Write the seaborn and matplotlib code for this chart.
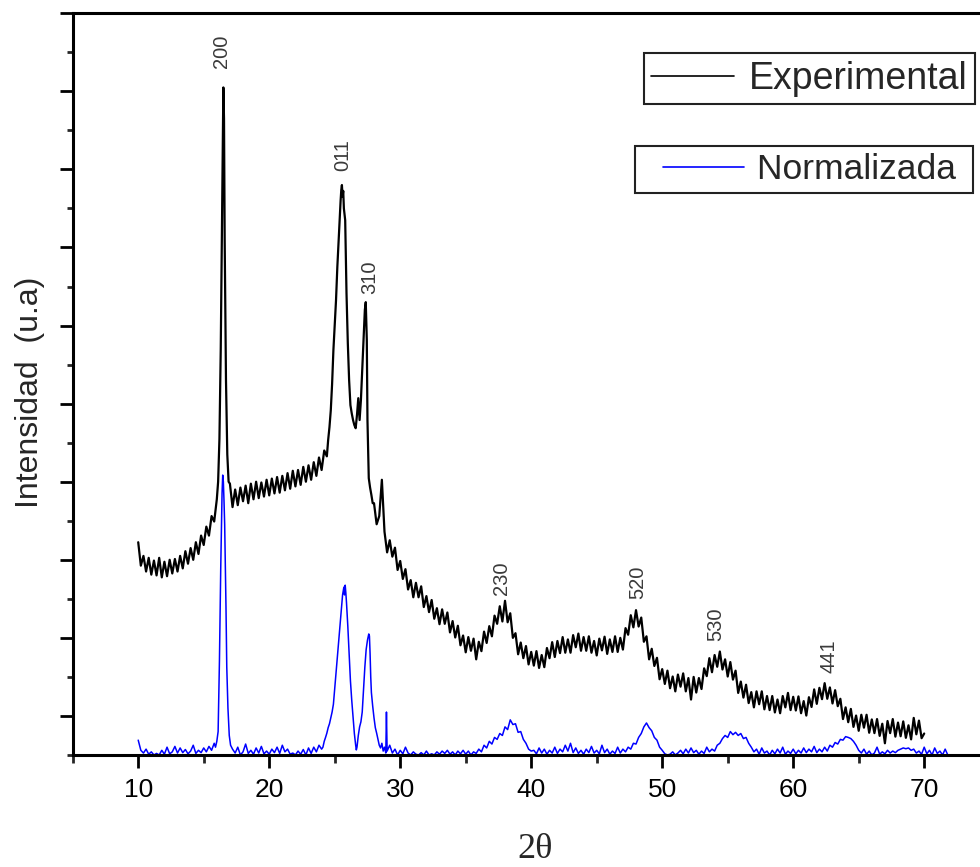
import numpy as np
import pandas as pd
import seaborn as sns
import matplotlib
matplotlib.use("Agg")
from matplotlib import pyplot as plt
from matplotlib.lines import Line2D
from matplotlib.legend_handler import HandlerLine2D

# paso de barrido (grados 2theta) para los tramos regulares
STEP = 0.2

# ---- Experimental (negro) ----
exp_a_start = 10.0
exp_a = [5.45, 4.85, 5.10, 4.70, 5.05, 4.62, 4.98, 4.60, 5.05, 4.55, 4.95, 4.58, 5.00, 4.65, 5.02, 4.70,
         5.10, 4.78, 5.22, 4.90, 5.30, 5.00, 5.45, 5.15, 5.62, 5.38, 5.85, 5.62, 6.12, 5.98, 6.55]
exp_p200_x = [16.1, 16.2, 16.3, 16.4, 16.45, 16.5, 16.55, 16.6, 16.7, 16.8, 16.9]
exp_p200_y = [7.0, 8.1, 10.4, 13.7, 15.5, 17.1, 16.3, 13.2, 9.6, 7.7, 7.0]
exp_b_start = 17.0
exp_b = [6.95, 6.35, 6.80, 6.40, 6.85, 6.50, 6.90, 6.45, 6.95, 6.55, 7.00, 6.58, 6.98, 6.62, 7.05, 6.65,
         7.08, 6.70, 7.12, 6.72, 7.15, 6.78, 7.22, 6.82, 7.28, 6.88, 7.30, 6.92, 7.38, 7.00, 7.42, 7.05,
         7.50, 7.15, 7.62, 7.30, 7.80, 7.65]
exp_p011_x = [24.5, 24.6, 24.7, 24.8, 24.9, 25.0, 25.1, 25.2, 25.3, 25.4, 25.45, 25.5, 25.55, 25.6, 25.65,
              25.7, 25.8, 25.85, 25.9, 26.0, 26.1, 26.2, 26.3, 26.4, 26.5, 26.6, 26.7, 26.8, 26.9, 27.0,
              27.1, 27.2, 27.3, 27.37, 27.45, 27.5, 27.6, 27.7, 27.8, 27.9]
exp_p011_y = [8.07, 8.4, 8.83, 9.5, 10.37, 11.0, 11.65, 12.5, 13.2, 13.88, 14.2, 14.47, 14.6, 14.3, 14.45,
              14.0, 13.7, 12.8, 11.83, 10.55, 9.6, 8.96, 8.75, 8.58, 8.45, 8.37, 8.71, 9.14, 8.58, 9.09,
              9.86, 10.63, 11.4, 11.6, 10.63, 8.58, 7.09, 6.85, 6.66, 6.45]
exp_c_start = 28.0
exp_c = [6.45, 5.91, 6.12, 7.05, 5.72, 5.19, 5.50, 5.08, 5.31, 4.74,
         4.97, 4.51, 4.76, 4.24, 4.48, 4.04, 4.41, 4.04, 4.32, 3.79,
         4.07, 3.66, 3.97, 3.49, 3.76, 3.35, 3.73, 3.36, 3.65, 3.14,
         3.43, 3.01, 3.31, 2.81, 3.06, 2.63, 3.02, 2.67, 2.98, 2.45,
         2.90, 2.66, 3.16, 2.87, 3.30, 3.04, 3.57, 3.36, 3.81, 3.42,
         3.95, 3.40, 3.63, 3.00, 3.12, 2.58, 2.88, 2.48, 2.79, 2.32,
         2.64, 2.29, 2.66, 2.23, 2.56, 2.25, 2.74, 2.48, 2.89, 2.51,
         2.92, 2.61, 3.02, 2.62, 2.96, 2.62, 3.07, 2.76, 3.11, 2.67,
         3.02, 2.67, 3.04, 2.62, 2.92, 2.55, 2.98, 2.68, 3.03, 2.59,
         2.96, 2.64, 3.04, 2.64, 3.00, 2.70, 3.25, 3.08, 3.58, 3.27,
         3.71, 3.29, 3.52, 2.90, 3.04, 2.45, 2.72, 2.28, 2.49, 1.94,
         2.20, 1.82, 2.16, 1.71, 2.01, 1.63, 2.06, 1.75, 2.09, 1.63,
         1.97, 1.42, 2.00, 1.60, 1.97, 1.69, 2.22, 2.02, 2.48, 2.12,
         2.56, 2.26, 2.65, 2.19, 2.45, 2.01, 2.38, 1.93, 2.16, 1.59,
         1.88, 1.47, 1.80, 1.33, 1.61, 1.22, 1.63, 1.30, 1.63, 1.17,
         1.51, 1.15, 1.51, 1.09, 1.42, 1.07, 1.51, 1.22, 1.59, 1.15,
         1.49, 1.14, 1.50, 1.07, 1.38, 1.01, 1.48, 1.23, 1.68, 1.31,
         1.72, 1.43, 1.84, 1.44, 1.73, 1.32, 1.66, 1.25, 1.44, 0.92,
         1.22, 0.84, 1.18, 0.72, 1.01, 0.62, 1.03, 0.70, 1.03, 0.57,
         0.91, 0.56, 0.92, 0.49, 0.80, 0.30, 0.87, 0.56, 0.92, 0.47,
         0.83, 0.48, 0.86, 0.44, 0.76, 0.40, 0.95, 0.53, 0.88, 0.43,
         0.55]

# ---- Normalizada (azul) ----
norm_a_start = 10.0
norm_a = [0.38, 0.12, 0.05, 0.15, 0.02, 0.08, 0.0, 0.04, 0.0, 0.12, 0.02, 0.2, 0.03, 0.08, 0.22,
          0.05, 0.18, 0.06, 0.14, 0.03, 0.1, 0.25, 0.04, 0.12, 0.06, 0.18, 0.08, 0.22, 0.12, 0.3]
norm_p200_x = [15.9, 16.0, 16.1, 16.2, 16.3, 16.4, 16.45, 16.5, 16.55, 16.6, 16.7, 16.76, 16.85, 16.95, 17.05]
norm_p200_y = [0.2, 0.35, 0.6, 2.4, 4.8, 6.7, 7.17, 7.0, 6.5, 5.9, 3.8, 2.25, 1.2, 0.5, 0.25]
norm_b_start = 17.2
norm_b = [0.15, 0.05, 0.2, 0.0, 0.08, 0.28, 0.04, 0.12, 0.02, 0.18, 0.05, 0.22, 0.03, 0.1, 0.02,
          0.15, 0.06, 0.2, 0.04, 0.25, 0.08, 0.15, 0.02, 0.05, 0.0, 0.1, 0.02, 0.14, 0.0, 0.18,
          0.04, 0.2, 0.08, 0.25, 0.15]
norm_p011_x = [24.1, 24.2, 24.3, 24.4, 24.5, 24.6, 24.7, 24.8, 24.9, 25.0, 25.1, 25.2, 25.3, 25.4, 25.5,
               25.6, 25.7, 25.75, 25.8, 25.85, 25.9, 26.0, 26.1, 26.2, 26.3, 26.4, 26.5, 26.6, 26.65,
               26.7, 26.8, 26.9, 27.0, 27.1, 27.2, 27.3, 27.4, 27.5, 27.6, 27.65, 27.7, 27.75, 27.8,
               27.9, 28.0, 28.1, 28.2, 28.3, 28.4, 28.5, 28.6, 28.7, 28.8, 28.9, 28.95, 29.0, 29.2,
               29.4, 29.6, 29.8]
norm_p011_y = [0.2, 0.35, 0.45, 0.56, 0.7, 0.8, 0.95, 1.1, 1.3, 1.7, 2.1, 2.5, 2.9, 3.3, 3.7,
               4.1, 4.3, 4.1, 4.35, 4.15, 3.9, 3.3, 2.6, 1.9, 1.4, 0.97, 0.55, 0.25, 0.13,
               0.2, 0.5, 0.72, 0.85, 1.1, 1.7, 2.25, 2.7, 2.94, 3.1, 3.05, 2.6, 2.0, 1.6,
               1.25, 0.95, 0.7, 0.56, 0.4, 0.25, 0.18, 0.3, 0.1, 0.2, 0.05, 1.1, 0.1, 0.25,
               0.05, 0.15, 0.0]
norm_c_start = 30.0
norm_c = [0.12, 0.03, 0.2, 0.05, 0.0, 0.08, 0.02, 0.0, 0.06, 0.0, 0.1, 0.0, 0.03, 0.0, 0.08,
          0.02, 0.1, 0.04, 0.12, 0.02, 0.08, 0.0, 0.1, 0.03, 0.12, 0.02, 0.1, 0.0, 0.08, 0.04,
          0.15, 0.08, 0.25, 0.18, 0.35, 0.28, 0.45, 0.4, 0.55, 0.5, 0.72, 0.65, 0.9, 0.78, 0.8,
          0.58, 0.6, 0.4, 0.3, 0.15, 0.1,
          0.12, 0.03, 0.18, 0.05, 0.15, 0.02, 0.12, 0.05, 0.2, 0.04, 0.15, 0.08, 0.25, 0.1, 0.3,
          0.06, 0.18, 0.04, 0.12, 0.02, 0.15, 0.06, 0.22, 0.05, 0.12, 0.03, 0.25, 0.06, 0.15, 0.02,
          0.1, 0.04, 0.2, 0.05, 0.15, 0.08, 0.2]
norm_d_start = 47.6
norm_d = [0.15, 0.3, 0.28, 0.45, 0.55, 0.72, 0.82, 0.7, 0.62, 0.45, 0.38, 0.2, 0.12, 0.03,
          0.0, 0.02, 0.08, 0.0, 0.05, 0.12, 0.03, 0.15, 0.05, 0.18, 0.06, 0.12, 0.02, 0.1, 0.04,
          0.2, 0.08, 0.15, 0.1, 0.25,
          0.3, 0.42, 0.5, 0.45, 0.6, 0.52, 0.58, 0.5, 0.55, 0.42, 0.45, 0.3, 0.2, 0.08,
          0.15, 0.02, 0.18, 0.05, 0.1, 0.0, 0.12, 0.03, 0.15, 0.05, 0.2, 0.02, 0.1, 0.04, 0.15,
          0.03, 0.12, 0.05, 0.18, 0.06, 0.15, 0.08, 0.22, 0.06, 0.15, 0.08, 0.2, 0.1, 0.25,
          0.2, 0.32, 0.28, 0.4, 0.38, 0.47, 0.45, 0.42, 0.35, 0.25, 0.12, 0.05,
          0.15, 0.02, 0.1, 0.0, 0.05, 0.2, 0.02, 0.08, 0.03, 0.12, 0.05, 0.1, 0.06, 0.12, 0.15,
          0.18, 0.16, 0.18, 0.12, 0.15, 0.05, 0.1, 0.02, 0.2, 0.03, 0.12, 0.0, 0.18, 0.04, 0.1,
          0.0, 0.15, 0.0]

# indices de Miller de los picos
peak_labels = ['200', '011', '310', '230', '520', '530', '441']
peak_label_x = [16.32, 25.63, 27.7, 37.77, 48.15, 54.1, 62.73]
peak_label_y = [18.03, 15.36, 12.24, 4.53, 4.43, 3.35, 2.54]


def scan(start, values):
    return list(np.round(start + STEP * np.arange(len(values)), 2))


exp_x = scan(exp_a_start, exp_a) + exp_p200_x + scan(exp_b_start, exp_b) + exp_p011_x + scan(exp_c_start, exp_c)
exp_y = exp_a + exp_p200_y + exp_b + exp_p011_y + exp_c
norm_x = (scan(norm_a_start, norm_a) + norm_p200_x + scan(norm_b_start, norm_b) + norm_p011_x
          + scan(norm_c_start, norm_c) + scan(norm_d_start, norm_d))
norm_y = norm_a + norm_p200_y + norm_b + norm_p011_y + norm_c + norm_d

df_exp = pd.DataFrame({'two_theta': exp_x, 'intensidad': exp_y})
df_norm = pd.DataFrame({'two_theta': norm_x, 'intensidad': norm_y})

sns.set_theme(style='ticks')
plt.rcParams['font.family'] = ['Liberation Sans', 'DejaVu Sans']

fig = plt.figure(figsize=(9.8, 8.67), dpi=100)
ax = fig.add_axes([0.0742, 0.1292, 0.9357, 0.8555])

sns.lineplot(data=df_exp, x='two_theta', y='intensidad', color='black', linewidth=1.6,
             estimator=None, sort=False, ax=ax)
sns.lineplot(data=df_norm, x='two_theta', y='intensidad', color='#0000ff', linewidth=1.1,
             estimator=None, sort=False, ax=ax)

for lab, px, py in zip(peak_labels, peak_label_x, peak_label_y):
    ax.text(px, py, lab, rotation=90, ha='center', va='center', fontsize=14.5, color='#3a3a3a')

ax.set_xlim(5, 75)
ax.set_ylim(0, 19)
ax.set_xticks([10, 20, 30, 40, 50, 60, 70])
ax.set_xticks([5, 15, 25, 35, 45, 55, 65, 75], minor=True)
ax.set_yticks(list(range(1, 20, 2)))
ax.set_yticks(list(range(0, 19, 2)), minor=True)
ax.set_yticklabels([])
ax.tick_params(axis='x', which='major', length=9.5, width=2, direction='out', labelsize=19, pad=7, colors='black')
ax.tick_params(axis='x', which='minor', length=6, width=2, direction='out')
ax.tick_params(axis='y', which='major', length=9.5, width=2, direction='out', colors='black')
ax.tick_params(axis='y', which='minor', length=4.5, width=2, direction='out')

for side in ['left', 'bottom', 'top']:
    ax.spines[side].set_linewidth(2.2)
    ax.spines[side].set_color('black')
ax.spines['right'].set_visible(False)

ax.set_xlabel('2θ', fontsize=26, family=['Liberation Serif', 'DejaVu Serif'], va='center')
ax.xaxis.set_label_coords(0.504, -0.128)
ax.set_ylabel('Intensidad  (u.a)', fontsize=23, va='center', ha='center')
ax.yaxis.set_label_coords(-0.047, 0.489)

h1 = Line2D([], [], color='black', linewidth=1.2)
leg1 = ax.legend(handles=[h1], labels=['Experimental'],
                 loc='upper right', bbox_to_anchor=(975 / 980, 1 - 53.3 / 867), bbox_transform=fig.transFigure,
                 fontsize=27, frameon=True, fancybox=False, framealpha=1, edgecolor='#222222',
                 borderpad=0.2, handlelength=2.2, handletextpad=0.4, borderaxespad=0)
leg1.get_frame().set_linewidth(1.5)
ax.add_artist(leg1)

h2 = Line2D([], [], color='#0000ff', linewidth=1.2)
leg2 = ax.legend(handles=[h2], labels=['Normalizada '],
                 handler_map={h2: HandlerLine2D(marker_pad=0.6, numpoints=2)},
                 loc='upper right', bbox_to_anchor=(972.7 / 980, 1 - 146 / 867), bbox_transform=fig.transFigure,
                 fontsize=25.5, frameon=True, fancybox=False, framealpha=1, edgecolor='#222222',
                 borderpad=0.2, handlelength=3.47, handletextpad=-0.23, borderaxespad=0)
leg2.get_frame().set_linewidth(1.5)

fig.savefig('out.png', dpi=100)
